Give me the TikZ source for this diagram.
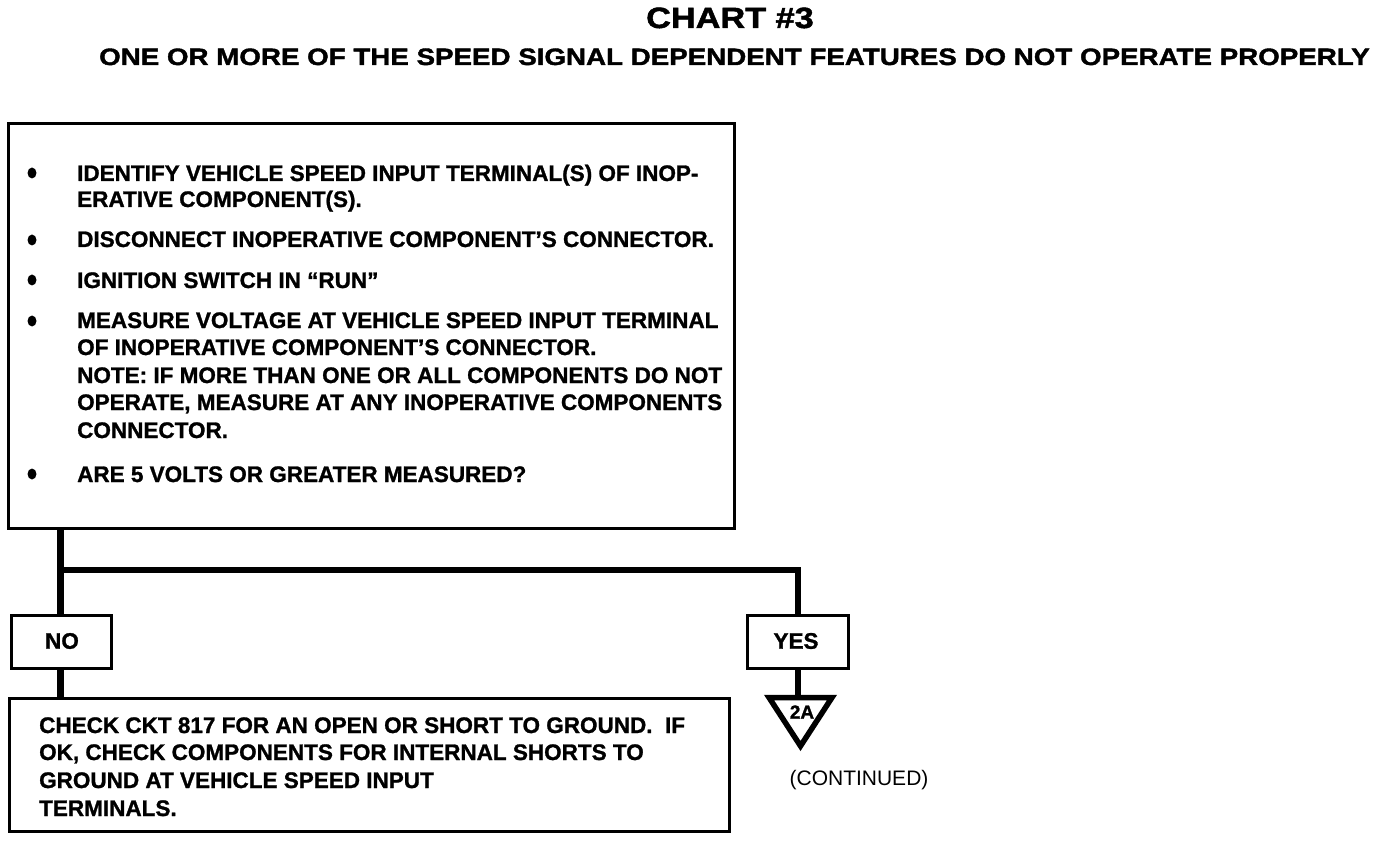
\documentclass[tikz,border=0pt]{standalone}
\usepackage{fontspec}
\usetikzlibrary{shapes.geometric}
\setmainfont{Liberation Sans}
\newfontfamily\headfont[FakeStretch=1.17,FakeBold=1.6]{Liberation Sans}
\newfontfamily\bodyfont[FakeBold=1.2]{Liberation Sans}
\begin{document}
\begin{tikzpicture}[x=1pt,y=-1pt,
  box/.style={draw=black,line width=3pt,inner sep=0pt,outer sep=0pt},
  txt/.style={anchor=base west,inner sep=0pt,font=\bodyfont\bfseries\fontsize{22.5}{27}\selectfont},
  lbl/.style={inner sep=0pt,font=\bodyfont\bfseries\fontsize{22.5}{27}\selectfont},
  bul/.style={ellipse,fill=black,inner sep=0pt,minimum width=9pt,minimum height=11pt},
  conn/.style={line width=6.5pt,line cap=butt}]
\useasboundingbox (0,0) rectangle (1392,842);
% titles
\node[anchor=base,inner sep=0pt,font=\headfont\bfseries\fontsize{29.3}{32}\selectfont] (title) at (730,28) {CHART \#3};
\node[anchor=base west,inner sep=0pt,font=\headfont\bfseries\fontsize{23.7}{28}\selectfont] (sub) at (99,65) {ONE OR MORE OF THE SPEED SIGNAL DEPENDENT FEATURES DO NOT OPERATE PROPERLY};
% main box
\node[box,minimum width=726pt,minimum height=405pt] (main) at (371.5,326) {};
\node[bul] (b1) at (32,173) {};
\node[bul] (b2) at (32,240) {};
\node[bul] (b3) at (32,280) {};
\node[bul] (b4) at (32,321) {};
\node[bul] (b5) at (32,474) {};
\node[txt] (l1) at (77,181) {IDENTIFY VEHICLE SPEED INPUT TERMINAL(S) OF INOP-};
\node[txt] (l2) at (77,207) {ERATIVE COMPONENT(S).};
\node[txt] (l3) at (77,247) {DISCONNECT INOPERATIVE COMPONENT’S CONNECTOR.};
\node[txt] (l4) at (77,288) {IGNITION SWITCH IN “RUN”};
\node[txt] (l5) at (77,328) {MEASURE VOLTAGE AT VEHICLE SPEED INPUT TERMINAL};
\node[txt] (l6) at (77,355) {OF INOPERATIVE COMPONENT’S CONNECTOR.};
\node[txt] (l7) at (77,383) {NOTE: IF MORE THAN ONE OR ALL COMPONENTS DO NOT};
\node[txt] (l8) at (77,410) {OPERATE, MEASURE AT ANY INOPERATIVE COMPONENTS};
\node[txt] (l9) at (77,438) {CONNECTOR.};
\node[txt] (l10) at (77,482) {ARE 5 VOLTS OR GREATER MEASURED?};
% answer boxes
\node[box,minimum width=100pt,minimum height=53pt] (no) at (61,642) {};
\node[lbl] (notxt) at (62,641) {NO};
\node[box,minimum width=101pt,minimum height=53pt] (yes) at (798,642) {};
\node[lbl] (yestxt) at (796,641) {YES};
% check box
\node[box,minimum width=720pt,minimum height=133pt] (check) at (369.5,765) {};
\node[txt] (c1) at (39,733) {CHECK CKT 817 FOR AN OPEN OR SHORT TO GROUND.\ \ IF};
\node[txt] (c2) at (39,760) {OK, CHECK COMPONENTS FOR INTERNAL SHORTS TO};
\node[txt] (c3) at (39,788) {GROUND AT VEHICLE SPEED INPUT};
\node[txt] (c4) at (39,816) {TERMINALS.};
% off-page connector
\coordinate (tri) at (800.5,697.5);
\draw[line width=5.5pt,line join=miter] (769,697.5) -- (832,697.5) -- (800.5,746) -- cycle;
\node[lbl,font=\bodyfont\bfseries\fontsize{19}{22}\selectfont] (twoA) at (802,712) {2A};
\node[inner sep=0pt,anchor=base,font=\fontsize{21}{25}\selectfont] (cont) at (859,785) {(CONTINUED)};
% connectors
\coordinate (split) at (60.5,570);
\draw[conn] (main.south -| split) -- (no.north -| split);
\draw[conn] (no.south -| split) -- (check.north -| split);
\draw[conn] (57.25,570) -- (798,570) -- (yes.north);
\draw[conn] (yes.south) -- (tri -| yes.south);
\end{tikzpicture}
\end{document}
